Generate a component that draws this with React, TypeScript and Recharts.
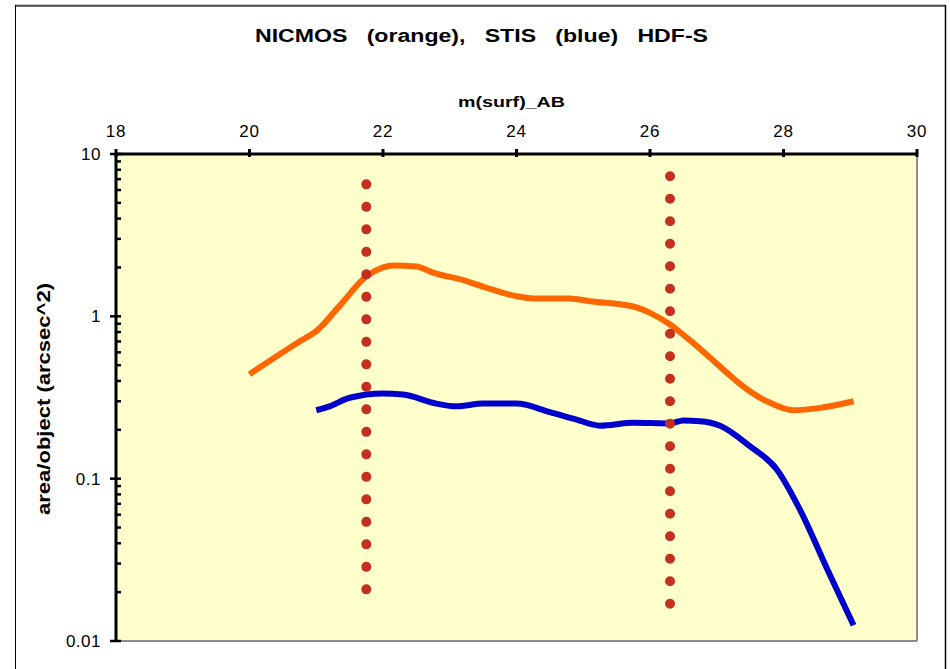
import React from 'react';
import { LineChart, Line, XAxis, YAxis, ReferenceArea, ReferenceLine } from 'recharts';

// NICMOS (orange) area per object vs surface magnitude
const nicmosMag = [20.0, 20.75, 21.0, 21.35, 21.75, 22.0, 22.15, 22.5, 22.75, 23.25, 23.55, 24.0, 24.25, 24.8, 25.1, 25.75, 26.0, 26.3, 26.55, 27.75, 28.15, 28.55, 29.05];
const nicmosArea = [0.44, 0.70, 0.81, 1.16, 1.76, 2.0, 2.06, 2.03, 1.86, 1.65, 1.50, 1.33, 1.29, 1.29, 1.24, 1.15, 1.05, 0.89, 0.74, 0.30, 0.264, 0.273, 0.30];

// STIS (blue)
const stisMag = [21.0, 21.2, 21.5, 22.0, 22.3, 22.8, 23.1, 23.5, 24.0, 24.5, 24.9, 25.25, 25.75, 26.3, 26.5, 26.75, 27.05, 27.5, 27.9, 28.25, 28.65, 29.05];
const stisArea = [0.264, 0.279, 0.315, 0.335, 0.330, 0.290, 0.279, 0.290, 0.290, 0.257, 0.231, 0.212, 0.221, 0.219, 0.228, 0.226, 0.212, 0.158, 0.114, 0.064, 0.028, 0.0125];

// dotted vertical markers
const cutMag = [21.75, 26.3];
const cutTop = [6.5, 7.3];
const cutBottom = [0.0206, 0.0169];

const xTicks = [18, 20, 22, 24, 26, 28, 30];
const yTicks = [
  0.01, 0.02, 0.03, 0.04, 0.05, 0.06, 0.07, 0.08, 0.09,
  0.1, 0.2, 0.3, 0.4, 0.5, 0.6, 0.7, 0.8, 0.9,
  1, 2, 3, 4, 5, 6, 7, 8, 9, 10,
];
const yLabels = [0.01, 0.1, 1, 10];

const nicmos = nicmosMag.map((m, i) => ({ m, area: nicmosArea[i] }));
const stis = stisMag.map((m, i) => ({ m, area: stisArea[i] }));
const cuts = cutMag.map((m, i) => [
  { m, area: cutTop[i] },
  { m, area: cutBottom[i] },
]);

const font = '"Liberation Sans", Arial, sans-serif';

const XTick = (props: any) => {
  const { x, y, payload } = props;
  return (
    <g>
      <line x1={x} x2={x} y1={y - 5} y2={y + 3} stroke="#000" strokeWidth={3} />
      <text x={x} y={y - 17} textAnchor="middle" fontSize={17} letterSpacing={0.8} fontFamily={font} fill="#000">
        {payload.value}
      </text>
    </g>
  );
};

const YTick = (props: any) => {
  const { x, y, payload } = props;
  const major = yLabels.includes(payload.value);
  return (
    <g>
      <line x1={major ? x - 6 : x} x2={x + 5} y1={y} y2={y} stroke="#000" strokeWidth={2.5} />
      {major && (
        <text x={x - 15} y={y + 6} textAnchor="end" fontSize={17} letterSpacing={0.5} fontFamily={font} fill="#000">
          {payload.value}
        </text>
      )}
    </g>
  );
};

export default function App() {
  return (
    <div style={{ position: 'absolute', left: 0, top: 0, width: 950, height: 669, overflow: 'hidden', background: '#fff' }}>
      <LineChart
        width={950}
        height={669}
        margin={{ top: 0, right: 33, bottom: 28, left: 0 }}
        style={{ position: 'absolute', left: 0, top: 0 }}
      >
        <XAxis
          type="number"
          dataKey="m"
          orientation="top"
          domain={[18, 30]}
          ticks={xTicks}
          interval={0}
          height={154}
          allowDataOverflow
          axisLine={{ stroke: '#000', strokeWidth: 3 }}
          tickLine={false}
          tickSize={0}
          tickMargin={0}
          tick={<XTick />}
        />
        <YAxis
          type="number"
          scale="log"
          domain={[0.01, 10]}
          ticks={yTicks}
          interval={0}
          width={116}
          allowDataOverflow
          axisLine={{ stroke: '#000', strokeWidth: 3 }}
          tickLine={false}
          tickSize={0}
          tickMargin={0}
          tick={<YTick />}
        />
        <ReferenceArea x1={18} x2={30} y1={0.01} y2={10} fill="#FFFFCC" fillOpacity={1} stroke="none" />
        <ReferenceLine x={30} stroke="#8c8c8c" strokeWidth={2} />
        <ReferenceLine y={0.01} stroke="#8c8c8c" strokeWidth={2} />
        <Line data={nicmos} dataKey="area" type="monotone" stroke="#FF6600" strokeWidth={6} dot={false} isAnimationActive={false} />
        <Line data={stis} dataKey="area" type="monotone" stroke="#0000CC" strokeWidth={6} dot={false} isAnimationActive={false} />
        {cuts.map((c, i) => (
          <Line
            key={i}
            data={c}
            dataKey="area"
            type="linear"
            stroke="#C4301F"
            strokeWidth={10}
            strokeLinecap="round"
            strokeDasharray="0 22.5"
            dot={false}
            isAnimationActive={false}
          />
        ))}
      </LineChart>
      <svg width={950} height={669} style={{ position: 'absolute', left: 0, top: 0, pointerEvents: 'none' }}>
        <line x1={15} x2={946} y1={5.8} y2={5.8} stroke="#444" strokeWidth={2} />
        <line x1={15.5} x2={15.5} y1={5} y2={669} stroke="#000" strokeWidth={1} />
        <line x1={945.5} x2={945.5} y1={5} y2={669} stroke="#000" strokeWidth={1.5} />
        <text
          x={255}
          y={42}
          fontSize={18}
          fontWeight="bold"
          fontFamily={font}
          textLength={453}
          lengthAdjust="spacingAndGlyphs"
          style={{ whiteSpace: 'pre' }}
        >
          {'NICMOS   (orange),   STIS   (blue)   HDF-S'}
        </text>
        <text
          x={458}
          y={107}
          fontSize={14}
          fontWeight="bold"
          fontFamily={font}
          textLength={107}
          lengthAdjust="spacingAndGlyphs"
        >
          m(surf)_AB
        </text>
        <text
          transform="translate(50, 399) rotate(-90)"
          x={0}
          y={0}
          textAnchor="middle"
          fontSize={18}
          fontWeight="bold"
          fontFamily={font}
          textLength={232}
          lengthAdjust="spacingAndGlyphs"
        >
          area/object (arcsec^2)
        </text>
      </svg>
    </div>
  );
}
